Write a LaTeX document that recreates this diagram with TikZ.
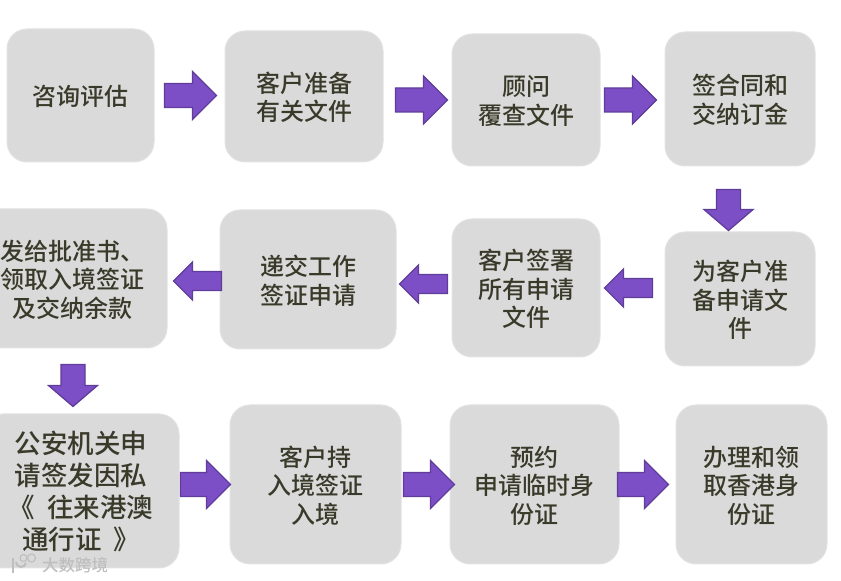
\documentclass[tikz,border=0pt]{standalone}
\usepackage{fontspec}
\setmainfont{Noto Sans CJK SC}[UprightFont=* Medium]
\usetikzlibrary{positioning, calc}
\definecolor{bgBox}{HTML}{DADADA}
\definecolor{borderBox}{HTML}{E2E2E2}
\definecolor{bgArrow}{HTML}{7C4FC6}
\definecolor{borderArrow}{HTML}{5F3D99}
\definecolor{textMain}{HTML}{3A3A2A}
\definecolor{textMark}{HTML}{BEBEBE}
\tikzset{
  flowbox/.style={draw=borderBox, fill=bgBox, rounded corners=20pt,
    inner sep=0pt, outer sep=0pt, font=\fontsize{24}{28.5}\selectfont, text=textMain,
    text depth=-5pt, line width=1pt, align=center},
  tallbox/.style={flowbox, text depth=1pt, font=\fontsize{26.5}{32}\selectfont},
  blockarrow/.style n args={3}{draw=borderArrow, fill=bgArrow, line width=1.3pt,
    to path={
      -- ($(\tikztostart)!#1!90:(\tikztotarget)$)
      -- ($($(\tikztotarget)!#3!(\tikztostart)$)!#1!90:(\tikztotarget)$)
      -- ($($(\tikztotarget)!#3!(\tikztostart)$)!#2!90:(\tikztotarget)$)
      -- (\tikztotarget)
      -- ($($(\tikztotarget)!#3!(\tikztostart)$)!#2!-90:(\tikztotarget)$)
      -- ($($(\tikztotarget)!#3!(\tikztostart)$)!#1!-90:(\tikztotarget)$)
      -- ($(\tikztostart)!#1!-90:(\tikztotarget)$)
      -- cycle}},
  bigarrow/.style={blockarrow={12pt}{24pt}{24pt}},
  downarrow/.style={blockarrow={12pt}{24.5pt}{21pt}},
  smallarrow/.style={blockarrow={9.5pt}{19pt}{19pt}},
}

\begin{document}
\begin{tikzpicture}
  \clip (0,0) rectangle (841pt,581pt);

  % === Row 1: left to right ===
  \node[flowbox, minimum width=147pt, minimum height=133pt] (consult) at (80.5pt,485.5pt) {咨询评估};
  \node[flowbox, minimum width=158pt, minimum height=131pt, right=71pt of consult, yshift=-1pt] (prepare) {客户准备\\有关文件};
  \node[flowbox, minimum width=148pt, minimum height=132pt, right=69pt of prepare, yshift=-3.5pt] (review) {顾问\\覆查文件};
  \node[flowbox, minimum width=150pt, minimum height=134pt, right=65pt of review, yshift=1pt] (contract) {签合同和\\交纳订金};

  % === Row 2: right to left ===
  \node[flowbox, minimum width=150pt, minimum height=134pt, below=66pt of contract] (draft) {为客户准\\备申请文\\件};
  \node[flowbox, minimum width=148pt, minimum height=138pt, left=65pt of draft, yshift=11pt] (signall) {客户签署\\所有申请\\文件};
  \node[flowbox, minimum width=176pt, minimum height=139pt, left=56pt of signall, yshift=8.5pt] (submit) {递交工作\\签证申请};
  \node[flowbox, minimum width=188pt, minimum height=139pt, left=53pt of submit, yshift=1pt] (approve) {发给批准书、\\领取入境签证\\及交纳余款};

  % === Row 3: left to right ===
  \node[tallbox, minimum width=196pt, minimum height=154pt, below=66pt of approve, xshift=8pt] (permit) {公安机关申\\请签发因私\\《~~往来港澳\\通行证~~》};
  \node[flowbox, minimum width=171pt, minimum height=159pt, right=51pt of permit, yshift=6.5pt] (enter) {客户持\\入境签证\\入境};
  \node[flowbox, minimum width=169pt, minimum height=159pt, right=49pt of enter] (booking) {预约\\申请临时身\\份证};
  \node[flowbox, minimum width=151pt, minimum height=159pt, right=57pt of booking] (idcard) {办理和领\\取香港身\\份证};

  % === Block arrows between the boxes ===
  \draw[bigarrow] ([xshift=10.5pt]consult.east) to ([xshift=-8.5pt]consult.east -| prepare.west);
  \draw[bigarrow] ([xshift=12.5pt]prepare.east |- review.west) to ([xshift=-4.5pt]review.west);
  \draw[bigarrow] ([xshift=4.5pt]review.east) to ([xshift=-8.5pt]review.east -| contract.west);
  \draw[downarrow] ([shift={(-11.5pt,-23.5pt)}]contract.south) to ([shift={(-11.5pt,1.5pt)}]contract.south |- draft.north);
  \draw[smallarrow] ([xshift=-12.5pt]draft.west |- signall.east) to ([xshift=4.5pt]signall.east);
  \draw[smallarrow] ([shift={(-4.5pt,4pt)}]signall.west) to ([shift={(3.5pt,4pt)}]signall.west -| submit.east);
  \draw[smallarrow] ([shift={(1.5pt,-1.5pt)}]submit.west) to ([shift={(6.5pt,-1.5pt)}]submit.west -| approve.east);
  \draw[downarrow] ([yshift=-16.5pt]approve.south) to ([yshift=7.5pt]approve.south |- permit.north);
  \draw[bigarrow] ([xshift=1.5pt]permit.east |- enter.west) to ([xshift=0.5pt]enter.west);
  \draw[bigarrow] ([xshift=2.5pt]enter.east) to ([xshift=4.5pt]booking.west);
  \draw[bigarrow] ([xshift=-1.5pt]booking.east) to ([xshift=-7.5pt]idcard.west);

  % === Watermark, bottom left ===
  \node[font=\fontsize{16.5}{18}\selectfont, text=textMark, inner sep=0pt] (mark) at (75pt,16pt) {大数跨境};
  \draw[textMark, line width=2pt] (13pt,23pt) -- (13pt,8pt);
  \draw[textMark, line width=2pt] (16pt,19pt) arc[start angle=180, end angle=350, radius=5pt];
  \draw[textMark, line width=1.1pt] (23.5pt,23pt) circle[radius=3.5pt];
  \draw[textMark, line width=1.1pt] (31.5pt,23pt) circle[radius=4pt];

\end{tikzpicture}
\end{document}
